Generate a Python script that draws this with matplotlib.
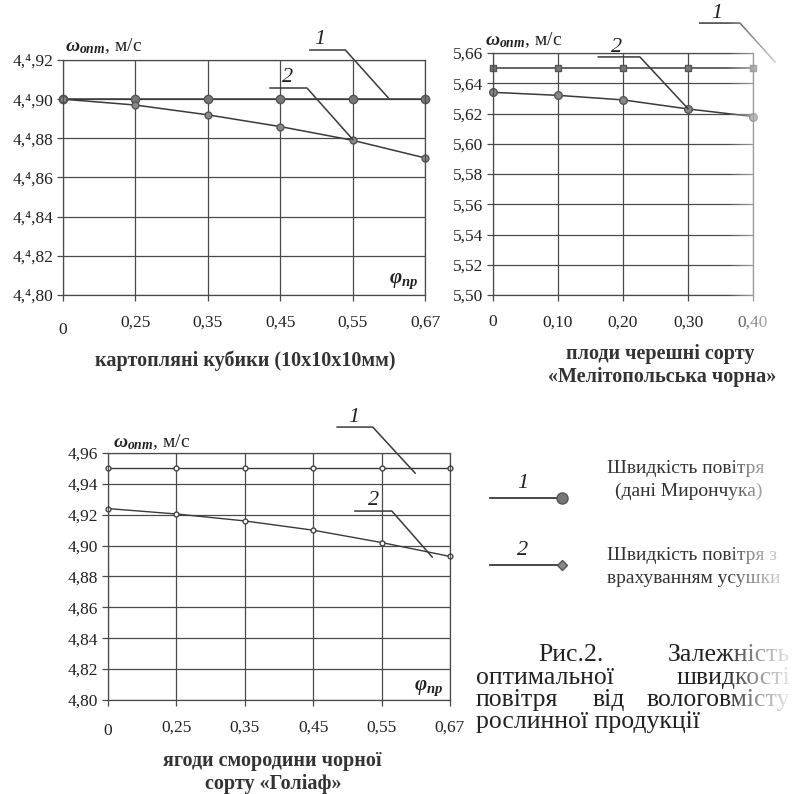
import matplotlib.pyplot as plt
import numpy as np
from matplotlib.transforms import ScaledTranslation

plt.rcParams['font.family'] = ['Liberation Serif', 'DejaVu Serif']
plt.rcParams['mathtext.fontset'] = 'custom'
plt.rcParams['mathtext.rm'] = 'Liberation Serif'
plt.rcParams['mathtext.it'] = 'Liberation Serif:italic:bold'
plt.rcParams['mathtext.bf'] = 'Liberation Serif:bold'

# картопляні кубики
phi_potato = ["0", "0,25", "0,35", "0,45", "0,55", "0,67"]
w1_potato = [4.900, 4.900, 4.900, 4.900, 4.900, 4.900]
w2_potato = [4.900, 4.897, 4.892, 4.886, 4.879, 4.870]
yt_potato = [4.80, 4.82, 4.84, 4.86, 4.88, 4.90, 4.92]
yl_potato = ["4,\u2074,80", "4,\u2074,82", "4,\u2074,84", "4,\u2074,86",
             "4,\u2074,88", "4,\u2074,90", "4,\u2074,92"]

# черешня
phi_cherry = ["0", "0,10", "0,20", "0,30", "0,40"]
w1_cherry = [5.650, 5.650, 5.650, 5.650, 5.650]
w2_cherry = [5.634, 5.632, 5.629, 5.623, 5.618]
yt_cherry = [5.50, 5.52, 5.54, 5.56, 5.58, 5.60, 5.62, 5.64, 5.66]
yl_cherry = ["5,50", "5,52", "5,54", "5,56", "5,58", "5,60", "5,62", "5,64", "5,66"]

# смородина
phi_currant = ["0", "0,25", "0,35", "0,45", "0,55", "0,67"]
w1_currant = [4.950, 4.950, 4.950, 4.950, 4.950, 4.950]
w2_currant = [4.924, 4.9205, 4.916, 4.910, 4.902, 4.893]
yt_currant = [4.80, 4.82, 4.84, 4.86, 4.88, 4.90, 4.92, 4.94, 4.96]
yl_currant = ["4,80", "4,82", "4,84", "4,86", "4,88", "4,90", "4,92", "4,94", "4,96"]

W, H = 792, 794
GRID = '#4a4a4a'
LINE = '#3a3a3a'
YLABEL = r"$\omega_{\mathit{опт}}$, м/с"
XLABEL = r"$\varphi_{\mathit{пр}}$"


def px(x, y):
    return x / W, 1 - y / H


def setup(ax, xlabels, yticks, ylabels):
    n = len(xlabels)
    ax.set_xlim(0, n - 1)
    ax.set_ylim(yticks[0], yticks[-1])
    ax.set_xticks(range(n))
    ax.set_xticklabels(xlabels)
    ax.set_yticks(yticks)
    ax.set_yticklabels(ylabels)
    ax.grid(True, color=GRID, lw=0.9)
    ax.set_axisbelow(True)
    for s in ax.spines.values():
        s.set_color(GRID)
        s.set_linewidth(0.9)
    ax.tick_params(axis='both', direction='out', length=4, width=0.9,
                   color=GRID, labelsize=12.5, labelcolor='#222')
    ax.tick_params(axis='x', pad=10)
    ax.tick_params(axis='y', pad=3)
    return ax


def leader(ax, text, tx, ty, xs, ys):
    ax.plot(xs, ys, color=LINE, lw=1.1, clip_on=False)
    ax.text(tx, ty, text, fontsize=16, style='italic', ha='center', va='bottom', color='#222')


fig = plt.figure(figsize=(7.92, 7.94), dpi=100)

# ---- chart 1 ----
ax1 = fig.add_axes([63 / W, 1 - 295 / H, (425 - 63) / W, (295 - 60) / H])
setup(ax1, phi_potato, yt_potato, yl_potato)
x1 = np.arange(len(phi_potato))
ax1.plot(x1, w1_potato, color=LINE, lw=1.1, marker='o', ms=6, mfc='#777', mec='#555', clip_on=False)
ax1.plot(x1, w2_potato, color=LINE, lw=1.1, marker='o', ms=5, mfc='#888', mec='#555', clip_on=False)
leader(ax1, "1", 3.55, 4.9255, [3.41, 3.90, 4.49], [4.9251, 4.9251, 4.9008])
leader(ax1, "2", 3.1, 4.906, [2.86, 3.37, 4.0], [4.9057, 4.9057, 4.8795])
ax1.text(0.005, 1.04, YLABEL, transform=ax1.transAxes, fontsize=14, color='#222', va='baseline')
ax1.text(0.98, 0.05, XLABEL, transform=ax1.transAxes, fontsize=15, color='#222',
         va='baseline', ha='right')
lab = ax1.get_xticklabels()[0]
lab.set_transform(lab.get_transform() + ScaledTranslation(0, -0.08, fig.dpi_scale_trans))

# ---- chart 2 ----
ax2 = fig.add_axes([493 / W, 1 - 295 / H, (753 - 493) / W, (295 - 53) / H])
setup(ax2, phi_cherry, yt_cherry, yl_cherry)
x2 = np.arange(len(phi_cherry))
ax2.plot(x2, w1_cherry, color=LINE, lw=1.1, marker='s', ms=5, mfc='#777', mec='#555', clip_on=False)
ax2.plot(x2, w2_cherry, color=LINE, lw=1.1, marker='o', ms=5.5, mfc='#888', mec='#555', clip_on=False)
leader(ax2, "2", 1.9, 5.6576, [1.62, 2.26, 3.0], [5.6574, 5.6574, 5.6232])
leader(ax2, "1", 3.45, 5.680, [3.18, 3.8, 4.34], [5.6798, 5.6798, 5.654])
ax2.text(-0.03, 1.033, YLABEL, transform=ax2.transAxes, fontsize=14, color='#222', va='baseline')

# ---- chart 3 ----
ax3 = fig.add_axes([108 / W, 1 - 700 / H, (450 - 108) / W, (700 - 453) / H])
setup(ax3, phi_currant, yt_currant, yl_currant)
x3 = np.arange(len(phi_currant))
ax3.plot(x3, w1_currant, color=LINE, lw=1.0, marker='o', ms=3.5, mfc='white', mec='#444', clip_on=False)
ax3.plot(x3, w2_currant, color=LINE, lw=1.0, marker='o', ms=3.5, mfc='white', mec='#444', clip_on=False)
leader(ax3, "1", 3.6, 4.977, [3.35, 3.87, 4.49], [4.9768, 4.9768, 4.947])
leader(ax3, "2", 3.88, 4.923, [3.61, 4.15, 4.74], [4.9224, 4.9224, 4.8926])
ax3.text(0.015, 1.025, YLABEL, transform=ax3.transAxes, fontsize=14, color='#222', va='baseline')
ax3.text(0.98, 0.04, XLABEL, transform=ax3.transAxes, fontsize=15, color='#222',
         va='baseline', ha='right')
lab = ax3.get_xticklabels()[0]
lab.set_transform(lab.get_transform() + ScaledTranslation(0, -0.04, fig.dpi_scale_trans))

# ---- chart captions ----
cap = dict(fontsize=14.5, fontweight='bold', color='#333', ha='center', va='baseline')
fig.text(*px(245, 366), "картопляні кубики (10x10x10мм)", **cap)
fig.text(*px(660, 359), "плоди черешні сорту", **cap)
fig.text(*px(662, 382), "«Мелітопольська чорна»", **cap)
fig.text(*px(272, 766), "ягоди смородини чорної", **cap)
fig.text(*px(273, 789), "сорту «Голіаф»", **cap)

# ---- legend ----
la = fig.add_axes([0, 0, 1, 1], facecolor='none')
la.axis('off')
la.plot([490, 562], [498, 498], color=LINE, lw=1.3)
la.plot([562], [498], marker='o', ms=8, mfc='#777', mec='#555')
la.plot([490, 562], [565, 565], color=LINE, lw=1.3)
la.plot([562], [565], marker='D', ms=5, mfc='#888', mec='#555')
la.text(523, 488, "1", fontsize=16, style='italic', ha='center', va='baseline', color='#222')
la.text(523, 555, "2", fontsize=16, style='italic', ha='center', va='baseline', color='#222')
leg = dict(fontsize=14, color='#333', va='baseline')
la.text(607, 473, "Швидкість повітря", ha='left', **leg)
la.text(615, 496, "(дані Мирончука)", ha='left', **leg)
la.text(607, 560, "Швидкість повітря з", ha='left', **leg)
la.text(607, 583, "врахуванням усушки", ha='left', **leg)

# ---- figure caption ----
fc = dict(fontsize=18.5, color='#222', va='baseline')
la.text(538, 661, "Рис.2.", ha='left', **fc)
la.text(790, 661, "Залежність", ha='right', **fc)
la.text(476, 684, "оптимальної", ha='left', **fc)
la.text(790, 684, "швидкості", ha='right', **fc)
la.text(476, 706, "повітря", ha='left', **fc)
la.text(593, 706, "від", ha='left', **fc)
la.text(790, 706, "вологовмісту", ha='right', **fc)
la.text(476, 728, "рослинної продукції", ha='left', **fc)

# washed-out right edge of the scan
fade = np.zeros((1, 256, 4))
fade[..., :3] = 1.0
fade[0, :, 3] = np.linspace(0, 0.92, 256) ** 0.8
la.imshow(fade, extent=[728, W, H, 0], aspect='auto', zorder=10)
la.set_xlim(0, W)
la.set_ylim(H, 0)

fig.savefig("out.png", dpi=100, facecolor='white')
